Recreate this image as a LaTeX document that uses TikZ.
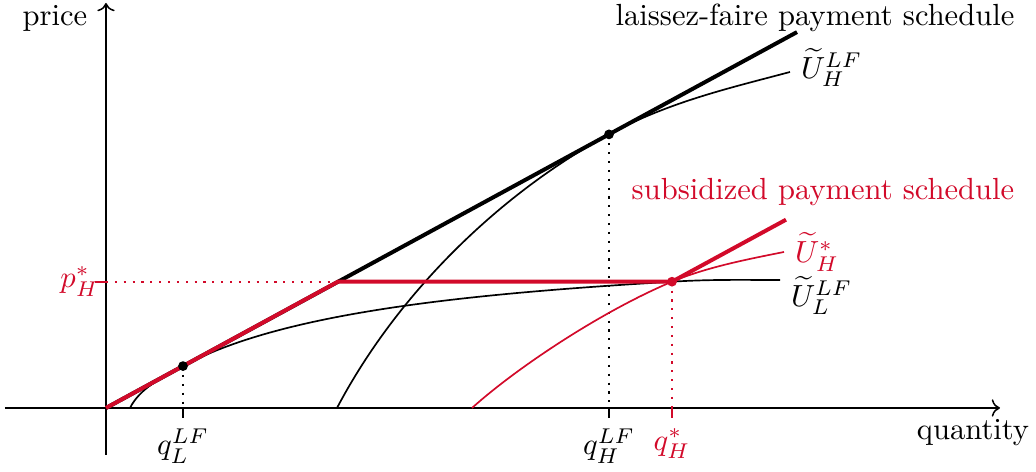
\documentclass[tikz,border=0pt]{standalone}
\usepackage{amsmath}
\usepackage{amssymb}
\usepackage{xcolor}
\usepackage{tikz}
\usetikzlibrary{arrows.meta, calc, positioning}
\definecolor{subred}{RGB}{210,10,42}
\tikzset{
    axis/.style={->, line width=0.5pt},
    schedule/.style={line width=1.3pt},
    indiff/.style={line width=0.55pt},
    guide/.style={line width=0.7pt, dash pattern=on 0.7pt off 2.2pt},
    tickmark/.style={line width=0.55pt},
    dot/.style={circle, fill, inner sep=0pt, minimum size=3.2pt},
}

\begin{document}
\begin{tikzpicture}[x=1.15cm, y=1.15cm]
    \useasboundingbox (-1.06,-0.64) rectangle (9.30,4.08);
    \coordinate (O) at (0,0);
    \coordinate (K) at (2.32,1.263);
    \coordinate (L) at (0.77,0.419);
    \coordinate (T) at (5.03,2.736);
    \coordinate (Q) at (5.66,1.263);
    \coordinate (lfend) at (6.91,3.759);
    \coordinate (subend) at (6.80,1.883);

    % axes
    \draw[axis] (-1.01,0) -- (8.94,0) coordinate (xend);
    \draw[axis] (0,-0.47) -- (0,4.05) coordinate (yend);
    \node (qty) at (8.67,-0.25) {quantity};
    \node (price) at (-0.51,3.90) {price};

    % guides and ticks
    \draw[guide, subred] (0,1.263) -- (Q);
    \draw[guide] (L) -- (L |- O);
    \draw[guide] (T) -- (T |- O);
    \draw[guide, subred] (Q) -- (Q |- O);
    \draw[tickmark, subred] (-0.11,1.263) -- (0,1.263) node[left, inner sep=2pt] (pstar) {$p_H^*$};
    \draw[tickmark] (L |- O) -- ++(0,-0.1) node[below] (qL) {$q_L^{LF}$};
    \draw[tickmark] (T |- O) -- ++(0,-0.1) node[below] (qH) {$q_H^{LF}$};
    \draw[tickmark, subred] (Q |- O) -- ++(0,-0.1) node[below] (qHstar) {$q_H^*$};

    % indifference curves
    \draw[indiff] (2.31,0) .. controls (2.91,1.14) and (3.93,2.138) .. (T)
        .. controls (5.63,3.062) and (6.24,3.20) .. (6.84,3.36)
        node[right, yshift=0.5mm] (uHLF) {$\widetilde{U}_H^{LF}$};
    \draw[indiff] (0.24,0) .. controls (0.34,0.2) and (0.57,0.311) .. (L)
        .. controls (1.77,0.964) and (3.66,1.143) .. (Q)
        .. controls (6.06,1.287) and (6.34,1.28) .. (6.74,1.28)
        node[right, yshift=-1.8mm] (uLLF) {$\widetilde{U}_L^{LF}$};
    \draw[indiff, subred] (3.66,0) .. controls (4.11,0.405) and (4.96,0.969) .. (Q)
        .. controls (6.01,1.41) and (6.43,1.49) .. (6.78,1.56)
        node[right] (uHstar) {$\widetilde{U}_H^{*}$};

    % payment schedules
    \draw[schedule] (O) -- (lfend);
    \draw[schedule, subred] (O) -- (K) -- (Q) -- (subend);
    \node (lflabel) at (7.09,3.90) {laissez-faire payment schedule};
    \node[subred] (sublabel) at (7.17,2.16) {subsidized payment schedule};

    \node[dot] (dL) at (L) {};
    \node[dot] (dT) at (T) {};
    \node[dot, subred] (dQ) at (Q) {};
\end{tikzpicture}
\end{document}
